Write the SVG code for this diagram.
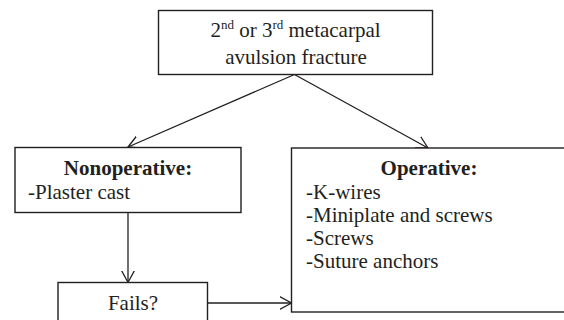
<svg xmlns="http://www.w3.org/2000/svg" width="564" height="320" viewBox="0 0 564 320">
<style>
.box{fill:#fff;stroke:#231f20;stroke-width:1.4}
.t{font-family:"Liberation Serif","Times New Roman",serif;font-size:21px;fill:#231f20}
.b{font-weight:bold}
.c{text-anchor:middle}
.sup{font-size:13px}
.conn{fill:none;stroke:#231f20;stroke-width:1.3}
</style>
<defs>
<marker id="arr" markerUnits="userSpaceOnUse" markerWidth="14" markerHeight="16" refX="12" refY="7" orient="auto" viewBox="0 0 14 14">
<path d="M0,0.5 L12,7 L0,13.5" fill="none" stroke="#231f20" stroke-width="1.3"/>
</marker>
</defs>
<rect width="564" height="320" fill="#fff"/>
<g id="connectors">
<line class="conn" x1="294.5" y1="74.5" x2="128" y2="147" marker-end="url(#arr)"/>
<line class="conn" x1="294.5" y1="74.5" x2="428" y2="148" marker-end="url(#arr)"/>
<line class="conn" x1="128" y1="213" x2="128" y2="282.5" marker-end="url(#arr)"/>
<line class="conn" x1="207.5" y1="303" x2="291.5" y2="303" marker-end="url(#arr)"/>
</g>
<g id="top">
<rect class="box" x="158.5" y="10.5" width="274" height="64"/>
<text class="t c" x="295.5" y="37">2<tspan class="sup" dy="-8">nd</tspan><tspan dy="8"> or 3</tspan><tspan class="sup" dy="-8">rd</tspan><tspan dy="8"> metacarpal</tspan></text>
<text class="t c" x="296" y="63.5">avulsion fracture</text>
</g>
<g id="nonoperative">
<rect class="box" x="15" y="147.5" width="226" height="65"/>
<text class="t b c" x="128" y="175">Nonoperative:</text>
<text class="t" x="28" y="198.5">-Plaster cast</text>
</g>
<g id="operative">
<rect class="box" x="291.5" y="148" width="275" height="164"/>
<text class="t b c" x="429" y="175">Operative:</text>
<text class="t" x="306" y="198.5">-K-wires</text>
<text class="t" x="306" y="221.8">-Miniplate and screws</text>
<text class="t" x="306" y="245">-Screws</text>
<text class="t" x="306" y="268.3">-Suture anchors</text>
</g>
<g id="fails">
<rect class="box" x="58" y="282.5" width="149.5" height="45"/>
<text class="t c" x="133" y="309.5">Fails?</text>
</g>
</svg>
